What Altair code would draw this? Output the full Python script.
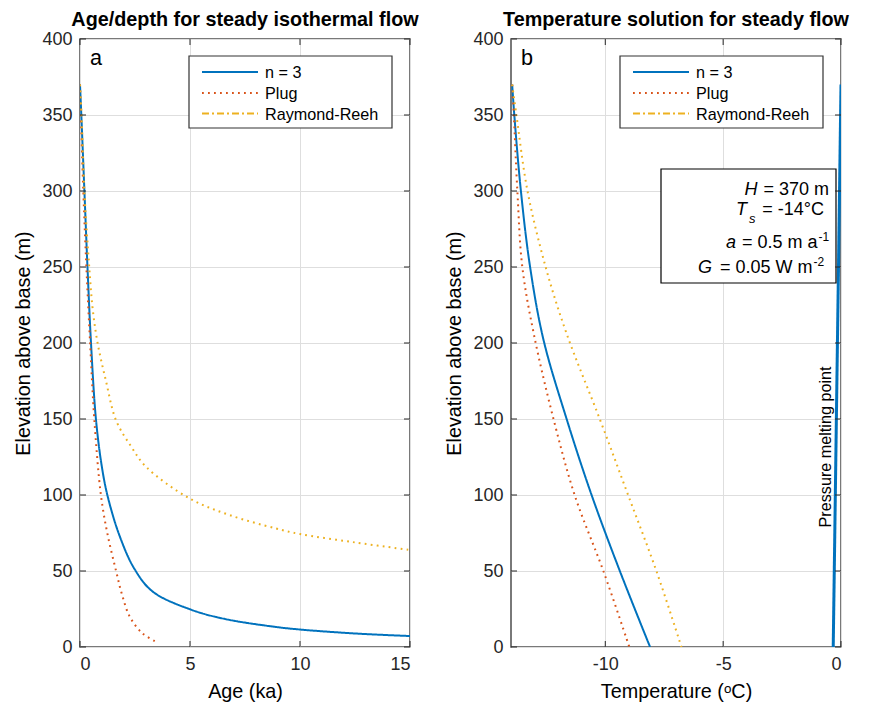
import altair as alt
import pandas as pd

# ---------------- data ----------------
SERIES = ["n = 3", "Plug", "Raymond-Reeh"]

# Panel a: age (ka) against elevation above base (m)
a_n3_age = [0, 0.06, 0.2, 0.34, 0.5, 0.73, 1.0, 1.26, 1.79, 2.47, 3.3, 5.0, 6.6, 8.9, 10, 12.5, 15]
a_n3_elev = [370, 350, 300, 250, 200, 149, 118, 99, 73.5, 51.5, 36.5, 24.8, 18.4, 13.2, 11.5, 8.9, 7.2]
a_plug_elev = [370, 350, 300, 250, 200, 150, 100, 75, 50, 35, 20, 9, 3.5]
a_plug_age = [0, 0.04, 0.15, 0.29, 0.46, 0.65, 0.95, 1.24, 1.64, 1.9, 2.26, 2.84, 3.45]
a_rr_elev = [370, 350, 300, 250, 222, 200, 175, 149, 132, 118.6, 97.8, 86.8, 78, 74.3, 68.8, 63.8]
a_rr_age = [0, 0.07, 0.2, 0.42, 0.58, 0.8, 1.18, 1.64, 2.32, 3.0, 4.97, 6.8, 8.9, 10, 12.5, 15]

# Panel b: temperature (C) against elevation above base (m)
b_n3_elev = [370, 350, 300, 250, 202, 149, 99.5, 49.5, 0]
b_n3_temp = [-13.95, -13.86, -13.58, -13.19, -12.62, -11.62, -10.57, -9.37, -8.10]
b_plug_elev = [370, 350, 300, 250, 205, 149, 99.5, 49.5, 0]
b_plug_temp = [-13.95, -13.88, -13.73, -13.52, -13.02, -12.18, -11.29, -10.07, -8.98]
b_rr_elev = [370, 350, 300, 250, 207, 149, 99.5, 49.5, 0]
b_rr_temp = [-13.95, -13.77, -13.3, -12.53, -11.66, -10.21, -9.02, -7.82, -6.77]
pmp_elev = [0, 370]
pmp_temp = [-0.33, 0.0]

# axis ticks
a_x_ticks = [0, 5, 10, 15]
b_x_ticks = [-10, -5, 0]
y_ticks = [0, 50, 100, 150, 200, 250, 300, 350, 400]

# ---------------- styling ----------------
FONT = "Liberation Sans, Arial, Helvetica, DejaVu Sans, sans-serif"
W, H = 330, 608
AXC = "#262626"
STYLE = {
    "n = 3": dict(color="#0072BD", width=2.0, dash=[1, 0], legdash=[1, 0]),
    "Plug": dict(color="#D95319", width=2.0, dash=[1.8, 4.2], legdash=[1.8, 4.2]),
    "Raymond-Reeh": dict(color="#EDB120", width=2.0, dash=[1.8, 4.2], legdash=[7, 3, 2, 3]),
}


def frame(xs, ys, series):
    rows = []
    for s, xv, yv in zip(series, xs, ys):
        for i, (x, y) in enumerate(zip(xv, yv)):
            rows.append({"series": s, "x": x, "elev": y, "i": i})
    return pd.DataFrame(rows)


def make_panel(df, xdomain, xticks, xtitle, title, letter, extra=None):
    xscale = alt.Scale(domain=xdomain, nice=False, zero=False)
    yscale = alt.Scale(domain=[0, 400], nice=False)
    xaxis = alt.Axis(values=xticks, title=xtitle, grid=True, labelExpr="datum.value + ''")
    yaxis = alt.Axis(values=y_ticks, title="Elevation above base (m)", grid=True)

    layers = []
    for name in SERIES:
        st = STYLE[name]
        layers.append(
            alt.Chart(df[df.series == name]).mark_line(
                color=st["color"], strokeWidth=st["width"], strokeDash=st["dash"], clip=True,
                interpolate="catmull-rom",
            ).encode(
                x=alt.X("x:Q", scale=xscale, axis=xaxis),
                y=alt.Y("elev:Q", scale=yscale, axis=yaxis),
                order="i:Q",
            )
        )
    if extra is not None:
        layers += extra(xscale, yscale, xaxis, yaxis)

    # inward tick marks on all four sides
    yt = pd.DataFrame({"v": y_ticks})
    xt = pd.DataFrame({"v": xticks})
    for x0, x1 in [(0, 6), (W - 6, W)]:
        layers.append(alt.Chart(yt).mark_rule(color=AXC, strokeWidth=1).encode(
            y=alt.Y("v:Q", scale=yscale, axis=yaxis), x=alt.value(x0), x2=alt.value(x1)))
    for y0, y1 in [(0, 6), (H - 6, H)]:
        layers.append(alt.Chart(xt).mark_rule(color=AXC, strokeWidth=1).encode(
            x=alt.X("v:Q", scale=xscale, axis=xaxis), y=alt.value(y0), y2=alt.value(y1)))

    # legend box
    one = pd.DataFrame({"k": [0]})
    layers.append(alt.Chart(one).mark_rect(fill="white", stroke="#333333", strokeWidth=1.2).encode(
        x=alt.value(109), x2=alt.value(312), y=alt.value(17), y2=alt.value(89)))
    row_y = [33, 54, 74.5]
    for name, ry in zip(SERIES, row_y):
        st = STYLE[name]
        layers.append(alt.Chart(one).mark_rule(color=st["color"], strokeWidth=st["width"], strokeDash=st["legdash"]).encode(
            x=alt.value(122), x2=alt.value(178), y=alt.value(ry)))
        layers.append(alt.Chart(pd.DataFrame({"t": [name]})).mark_text(
            align="left", baseline="middle", font=FONT, fontSize=16.2, color="#000000").encode(
            x=alt.value(185), y=alt.value(ry + 1), text="t:N"))

    # panel letter
    layers.append(alt.Chart(pd.DataFrame({"t": [letter]})).mark_text(
        align="left", baseline="alphabetic", font=FONT, fontSize=21.6, color="#000000").encode(
        x=alt.value(10), y=alt.value(26), text="t:N"))

    return alt.layer(*layers).properties(
        width=W, height=H,
        title=alt.TitleParams(title, font=FONT, fontSize=19.8, fontWeight="bold", color="#000000",
                              anchor="middle", offset=0),
    )


def panel_b_extra(xscale, yscale, xaxis, yaxis):
    out = []
    pm = pd.DataFrame({"x": pmp_temp, "elev": pmp_elev, "i": [0, 1]})
    out.append(alt.Chart(pm).mark_line(color="#0072BD", strokeWidth=3, clip=True).encode(
        x=alt.X("x:Q", scale=xscale, axis=xaxis), y=alt.Y("elev:Q", scale=yscale, axis=yaxis), order="i:Q"))
    out.append(alt.Chart(pd.DataFrame({"x": [-0.65], "elev": [131.6], "t": ["Pressure melting point"]})).mark_text(
        angle=270, align="center", baseline="middle", font=FONT, fontSize=16.2, color="#000000").encode(
        x=alt.X("x:Q", scale=xscale, axis=xaxis), y=alt.Y("elev:Q", scale=yscale, axis=yaxis), text="t:N"))
    # parameter box
    one = pd.DataFrame({"k": [0]})
    out.append(alt.Chart(one).mark_rect(fill="white", stroke="#000000", strokeWidth=1.2).encode(
        x=alt.value(150), x2=alt.value(325), y=alt.value(130), y2=alt.value(244)))

    def txt(t, x, y, align="left", size=18, style="normal"):
        return alt.Chart(pd.DataFrame({"t": [t]})).mark_text(
            align=align, baseline="alphabetic", font=FONT, fontSize=size, fontStyle=style, color="#000000"
        ).encode(x=alt.value(x), y=alt.value(y), text="t:N")

    out += [
        txt("H", 246.5, 156, "right", style="italic"),
        txt("= 370 m", 318, 156, "right"),
        txt("T", 236, 176, "right", style="italic"),
        txt("s", 238, 184, "left", size=13, style="italic"),
        txt("= -14°C", 313, 176, "right"),
        txt("a", 225, 208.5, "right", style="italic"),
        txt("= 0.5 m a", 306.5, 208.5, "right"),
        txt("-1", 307.5, 202, "left", size=12),
        txt("G", 201, 233.5, "right", style="italic"),
        txt("= 0.05 W m", 301.5, 233.5, "right"),
        txt("-2", 302.5, 227, "left", size=12),
    ]
    return out


df_a = frame([a_n3_age, a_plug_age, a_rr_age], [a_n3_elev, a_plug_elev, a_rr_elev], SERIES)
df_b = frame([b_n3_temp, b_plug_temp, b_rr_temp], [b_n3_elev, b_plug_elev, b_rr_elev], SERIES)

pa = make_panel(df_a, [0, 15], a_x_ticks, "Age (ka)", "Age/depth for steady isothermal flow", "a")
pb = make_panel(df_b, [-14, 0], b_x_ticks, "Temperature (ᵒC)", "Temperature solution for steady flow", "b",
                extra=panel_b_extra)

chart = alt.hconcat(pa, pb, spacing=24).properties(
    padding={"left": 5, "top": 1, "right": 5, "bottom": 5}
).configure_view(
    stroke="#4d4d4d", strokeWidth=1.5
).configure_axis(
    domain=False, ticks=False,
    labelFont=FONT, labelFontSize=18, labelColor=AXC, labelPadding=8,
    titleFont=FONT, titleFontSize=19.8, titleColor="#000000", titleFontWeight="normal", titlePadding=8,
    gridColor="#dedede", gridWidth=1,
).configure_title(font=FONT)

chart.save("out.html", embed_options={"renderer": "svg", "actions": False})
